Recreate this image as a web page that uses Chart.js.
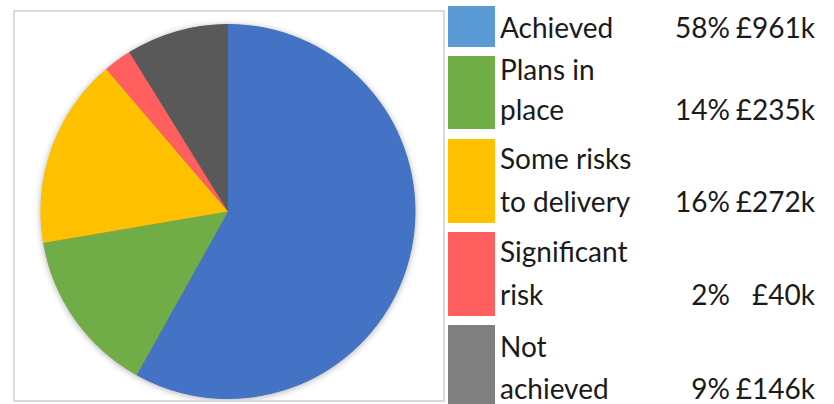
<!DOCTYPE html>
<html>
<head>
<meta charset="utf-8">
<script src="https://cdn.jsdelivr.net/npm/chart.js@4/dist/chart.umd.min.js"></script>
<style>
  html, body { margin: 0; padding: 0; background: #fff; }
  body { width: 834px; height: 404px; position: relative; overflow: hidden; font-family: Lato, "Open Sans", sans-serif; color: #1a1a1a; }
  #box { position: absolute; left: 13px; top: 10px; width: 432px; height: 392px; border: 2px solid #d9d9d9; box-sizing: border-box; }
  #box canvas { display: block; }
  .row { position: absolute; left: 448px; width: 386px; }
  .sq { position: absolute; left: 0; top: 0; width: 47px; height: 100%; }
  .txt { position: absolute; bottom: 0; font-size: 28px; white-space: normal; }
  .lab { left: 52px; width: 150px; }
  .pct { right: 104px; text-align: right; white-space: nowrap; }
  .money { right: 19px; text-align: right; white-space: nowrap; }
</style>
</head>
<body>
<div id="box"><canvas id="c"></canvas></div>
<div id="legend"></div>
<script>
// ---- data ----
const categories = ['Achieved', 'Plans in place', 'Some risks to delivery', 'Significant risk', 'Not achieved'];
const values = [961, 235, 272, 40, 146];           // £k
const percentLabels = ['58%', '14%', '16%', '2%', '9%'];
const moneyLabels = ['£961k', '£235k', '£272k', '£40k', '£146k'];

// ---- styles ----
const pieColors = ['#4472C4', '#70AD47', '#FFC000', '#FF5F5F', '#595959'];
const legendColors = ['#5B9BD5', '#70AD47', '#FFC000', '#FF5F5F', '#808080'];
const rowLayout = [ // [top, height, lineHeight]
  [6, 41, 40], [56, 73, 40], [139, 84, 43], [232, 84, 43], [325, 84, 42]
];

// ---- legend (HTML) ----
const legend = document.getElementById('legend');
categories.forEach((cat, i) => {
  const [top, h, lh] = rowLayout[i];
  const row = document.createElement('div');
  row.className = 'row';
  row.style.top = top + 'px';
  row.style.height = h + 'px';
  row.innerHTML =
    '<div class="sq" style="background:' + legendColors[i] + '"></div>' +
    '<div class="txt lab" style="line-height:' + lh + 'px">' + cat + '</div>' +
    '<div class="txt pct" style="line-height:' + lh + 'px">' + percentLabels[i] + '</div>' +
    '<div class="txt money" style="line-height:' + lh + 'px">' + moneyLabels[i] + '</div>';
  legend.appendChild(row);
});

// ---- shadow behind pie ----
const pieShadow = {
  id: 'pieShadow',
  beforeDatasetsDraw(chart) {
    const arc = chart.getDatasetMeta(0).data[0];
    if (!arc) return;
    const ctx = chart.ctx;
    ctx.save();
    ctx.shadowColor = 'rgba(0,0,0,0.35)';
    ctx.shadowBlur = 7;
    ctx.shadowOffsetX = 0;
    ctx.shadowOffsetY = 1;
    ctx.beginPath();
    ctx.arc(arc.x, arc.y, arc.outerRadius - 0.5, 0, Math.PI * 2);
    ctx.fillStyle = '#777';
    ctx.fill();
    ctx.restore();
  }
};

new Chart(document.getElementById('c'), {
  type: 'pie',
  data: {
    labels: categories,
    datasets: [{
      data: values,
      backgroundColor: pieColors,
      borderWidth: 0,
      hoverOffset: 0
    }]
  },
  options: {
    responsive: true,
    maintainAspectRatio: false,
    animation: false,
    layout: { padding: { top: 12, bottom: 1, left: 0, right: 2 } },
    plugins: {
      legend: { display: false },
      tooltip: { enabled: false }
    }
  },
  plugins: [pieShadow]
});
</script>
</body>
</html>
